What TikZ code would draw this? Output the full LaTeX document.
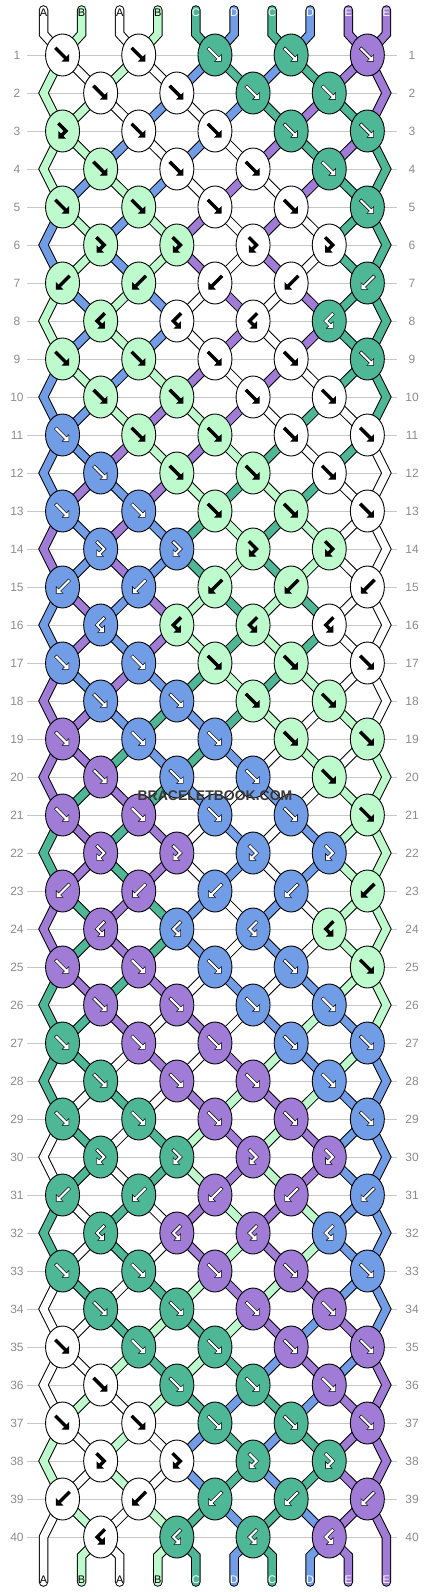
\documentclass[tikz,border=0pt]{standalone}
\usepackage{fontspec}
\setmainfont{Liberation Sans}
\usetikzlibrary{shapes.geometric}
\pgfdeclarelayer{bands}
\pgfsetlayers{bands,main}
% thread colours
\definecolor{strA}{HTML}{FFFFFF}
\definecolor{strB}{HTML}{BDFBCC}
\definecolor{strC}{HTML}{4DB796}
\definecolor{strD}{HTML}{719DE6}
\definecolor{strE}{HTML}{A07CD6}
\colorlet{arwA}{black}
\colorlet{arwB}{black}
\colorlet{arwC}{white}
\colorlet{arwD}{white}
\colorlet{arwE}{white}
% which thread gives the knot colour (after the knot): 1 right, 0 left
\def\offf{1}
\def\offb{0}
\def\offfb{0}
\def\offbf{1}

\tikzset{
	band/.style={line width=1pt, double=str#1, double distance=7.5pt, line cap=round, line join=miter},
	knot/.style={ellipse, draw, line width=0.9pt, minimum width=34pt, minimum height=42pt, inner sep=0pt},
	glyphline/.style={line width=0.6pt, double=arw#1, double distance=2.2pt, line cap=rect, line join=miter},
	headrim/.style={draw=black, line width=1.2pt, line join=miter},
	rowline/.style={draw=black!22, line width=0.9pt},
	rownum/.style={text=black!45, inner sep=1pt, font=\fontsize{12}{12}\selectfont},
	endlbl/.style={inner sep=0pt, font=\fontsize{11}{11}\selectfont}
}

% knot symbols
\newcommand{\glyphf}[1]{
	\draw[headrim] (6,6) -- (0.5,6) -- (6,0.5) -- cycle;
	\draw[glyphline=#1] (-6,-6) -- (3.5,3.5);
	\fill[arw#1] (6,6) -- (0.5,6) -- (6,0.5) -- cycle;}
\newcommand{\glyphb}[1]{
	\draw[headrim] (-6,6) -- (-0.5,6) -- (-6,0.5) -- cycle;
	\draw[glyphline=#1] (6,-6) -- (-3.5,3.5);
	\fill[arw#1] (-6,6) -- (-0.5,6) -- (-6,0.5) -- cycle;}
\newcommand{\glyphfb}[1]{
	\draw[headrim] (-3.5,7) -- (2,7) -- (-3.5,1.5) -- cycle;
	\draw[glyphline=#1] (-3,-6.5) -- (3.5,0) -- (-1,4.5);
	\fill[arw#1] (-3.5,7) -- (2,7) -- (-3.5,1.5) -- cycle;}
\newcommand{\glyphbf}[1]{
	\draw[headrim] (3.5,7) -- (-2,7) -- (3.5,1.5) -- cycle;
	\draw[glyphline=#1] (3,-6.5) -- (-3.5,0) -- (1,4.5);
	\fill[arw#1] (3.5,7) -- (-2,7) -- (3.5,1.5) -- cycle;}

% row / knot types / threads after the row
\newcommand{\knotrows}{
	1/{f,f,f,f,f}/{B,A,B,A,D,C,D,C,E,E},
	2/{f,f,f,f}/{B,B,A,D,A,D,C,E,C,E},
	3/{fb,f,f,f,f}/{B,B,D,A,D,A,E,C,E,C},
	4/{f,f,f,f}/{B,D,B,D,A,E,A,E,C,C},
	5/{f,f,f,f,f}/{D,B,D,B,E,A,E,A,C,C},
	6/{fb,fb,fb,fb}/{D,B,D,B,E,A,E,A,C,C},
	7/{b,b,b,b,b}/{B,D,B,D,A,E,A,E,C,C},
	8/{bf,bf,bf,bf}/{B,D,B,D,A,E,A,E,C,C},
	9/{f,f,f,f,f}/{D,B,D,B,E,A,E,A,C,C},
	10/{f,f,f,f}/{D,D,B,E,B,E,A,C,A,C},
	11/{f,f,f,f,f}/{D,D,E,B,E,B,C,A,C,A},
	12/{f,f,f,f}/{D,E,D,E,B,C,B,C,A,A},
	13/{f,f,f,f,f}/{E,D,E,D,C,B,C,B,A,A},
	14/{fb,fb,fb,fb}/{E,D,E,D,C,B,C,B,A,A},
	15/{b,b,b,b,b}/{D,E,D,E,B,C,B,C,A,A},
	16/{bf,bf,bf,bf}/{D,E,D,E,B,C,B,C,A,A},
	17/{f,f,f,f,f}/{E,D,E,D,C,B,C,B,A,A},
	18/{f,f,f,f}/{E,E,D,C,D,C,B,A,B,A},
	19/{f,f,f,f,f}/{E,E,C,D,C,D,A,B,A,B},
	20/{f,f,f,f}/{E,C,E,C,D,A,D,A,B,B},
	21/{f,f,f,f,f}/{C,E,C,E,A,D,A,D,B,B},
	22/{fb,fb,fb,fb}/{C,E,C,E,A,D,A,D,B,B},
	23/{b,b,b,b,b}/{E,C,E,C,D,A,D,A,B,B},
	24/{bf,bf,bf,bf}/{E,C,E,C,D,A,D,A,B,B},
	25/{f,f,f,f,f}/{C,E,C,E,A,D,A,D,B,B},
	26/{f,f,f,f}/{C,C,E,A,E,A,D,B,D,B},
	27/{f,f,f,f,f}/{C,C,A,E,A,E,B,D,B,D},
	28/{f,f,f,f}/{C,A,C,A,E,B,E,B,D,D},
	29/{f,f,f,f,f}/{A,C,A,C,B,E,B,E,D,D},
	30/{fb,fb,fb,fb}/{A,C,A,C,B,E,B,E,D,D},
	31/{b,b,b,b,b}/{C,A,C,A,E,B,E,B,D,D},
	32/{bf,bf,bf,bf}/{C,A,C,A,E,B,E,B,D,D},
	33/{f,f,f,f,f}/{A,C,A,C,B,E,B,E,D,D},
	34/{f,f,f,f}/{A,A,C,B,C,B,E,D,E,D},
	35/{f,f,f,f,f}/{A,A,B,C,B,C,D,E,D,E},
	36/{f,f,f,f}/{A,B,A,B,C,D,C,D,E,E},
	37/{f,f,f,f,f}/{B,A,B,A,D,C,D,C,E,E},
	38/{fb,fb,fb,fb}/{B,A,B,A,D,C,D,C,E,E},
	39/{b,b,b,b,b}/{A,B,A,B,C,D,C,D,E,E},
	40/{bf,bf,bf,bf}/{A,B,A,B,C,D,C,D,E,E}}

\begin{document}
\begin{tikzpicture}[x=1pt, y=-1pt]
	\useasboundingbox (0,0) rectangle (430,1592);
	%ROW NUMBERS
	\foreach \r in {1,...,40} {
		\node[rownum] (nl-\r) at (17,{17+38*\r}) {\r};
		\node[rownum] (nr-\r) at (412,{17+38*\r}) {\r};
	}
	%KNOTS
	\foreach \r/\kl/\s in \knotrows {
		\foreach \c [count=\p] in \s {\expandafter\xdef\csname st\p\endcsname{\c}}
		\foreach \kt [count=\k] in \kl {
			\pgfmathtruncatemacro\q{mod(\r,2)==1 ? 2*\k-1 : 2*\k}
			\edef\dq{\csname off\kt\endcsname}
			\pgfmathtruncatemacro\qq{\q+1}
			\pgfmathtruncatemacro\qc{\q+\dq}
			\edef\col{\csname st\qc\endcsname}
			\node[knot, fill=str\col, alias=k-\r-\qq] (k-\r-\q) at ({24.45+38.1*\q},{17+38*\r}) {};
			\begin{scope}[shift={(k-\r-\q.center)}]
				\csname glyph\kt\endcsname{\col}
			\end{scope}
		}
		\ifodd\r\relax\else
			\coordinate (k-\r-1) at (43.5,{17+38*\r});
			\coordinate (k-\r-10) at (386.4,{17+38*\r});
		\fi
	}
	%THREAD ENDS
	\foreach \c [count=\p] in {A,B,A,B,C,D,C,D,E,E} {
		\coordinate (t-\p) at ({5.4+38.1*\p},10);
		\coordinate (k-0-\p) at ({5.4+38.1*\p},34);
		\coordinate (k-41-\p) at ({5.4+38.1*\p},1556);
		\coordinate (b-\p) at ({5.4+38.1*\p},1582);
		\node[endlbl, text=arw\c] (lt-\p) at ({5.4+38.1*\p},12.5) {\c};
		\node[endlbl, text=arw\c] (lb-\p) at ({5.4+38.1*\p},1579.5) {\c};
	}
	\node[font=\bfseries\fontsize{14}{14}\selectfont, text=black!78] (wm) at (215,795.5) {BRACELETBOOK.COM};

	\begin{pgfonlayer}{bands}
		\fill[white] (0,0) rectangle (430,1592);
		\foreach \r in {1,...,40}
			\draw[rowline] ([xshift=10pt]nl-\r.center) -- ([xshift=-15pt]nr-\r.center);
		%THREADS
		\foreach \c [count=\p] in {A,B,A,B,C,D,C,D,E,E}
			\draw[band=\c] (t-\p) -- (k-0-\p) -- (k-1-\p.center);
		\foreach \r/\kl/\s in \knotrows {
			\pgfmathtruncatemacro\rn{\r+1}
			\pgfmathtruncatemacro\rnn{\r+2}
			\foreach \c [count=\p] in \s {
				\ifnum\p=1 \xdef\cfirst{\c}\fi
				\ifnum\p=10 \xdef\clast{\c}\fi
				\ifnum\p>1 \ifnum\p<10
					\ifnum\r=40
						\draw[band=\c] (k-40-\p.center) -- (k-41-\p) -- (b-\p);
					\else
						\draw[band=\c] (k-\r-\p.center) -- (k-\rn-\p.center);
					\fi
				\fi\fi
			}
			% outer threads go round the edge on the even rows
			\ifodd\r\relax
				\ifnum\r=39
					\draw[band=\cfirst] (k-39-1.center) -- (k-40-1) -- (b-1);
					\draw[band=\clast] (k-39-10.center) -- (k-40-10) -- (b-10);
				\else
					\draw[band=\cfirst] (k-\r-1.center) -- (k-\rn-1) -- (k-\rnn-1.center);
					\draw[band=\clast] (k-\r-10.center) -- (k-\rn-10) -- (k-\rnn-10.center);
				\fi
			\fi
		}
	\end{pgfonlayer}
\end{tikzpicture}
\end{document}
